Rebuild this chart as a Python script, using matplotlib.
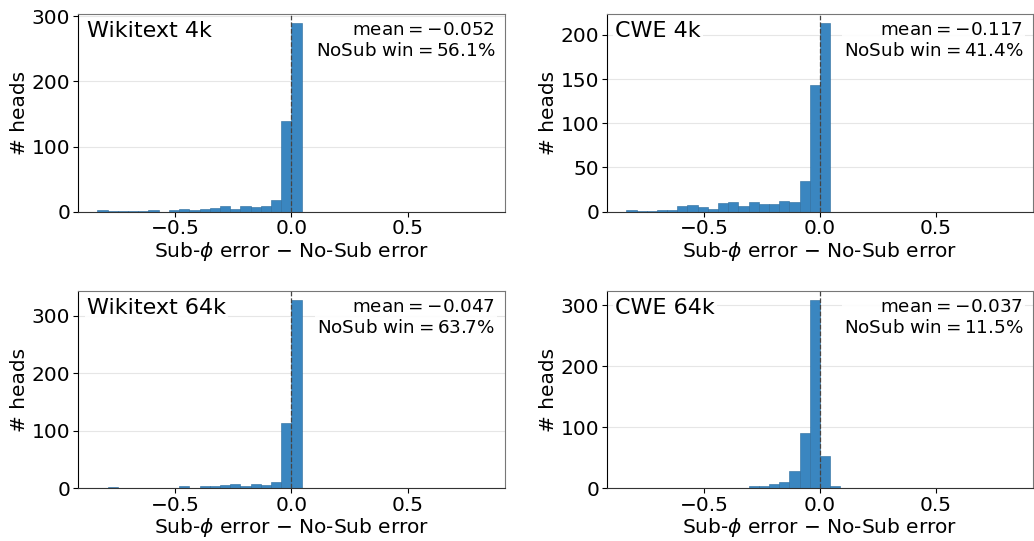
import numpy as np
import matplotlib
matplotlib.use("Agg")
import matplotlib.pyplot as plt
from matplotlib.ticker import MultipleLocator

# -----------------------------
# Data: histogram counts per bin (38 bins, symmetric around 0)
# -----------------------------
edge_max = 0.835
n_bins = 38

wiki4k_counts = [2, 1, 1, 1, 1, 3, 0, 3, 4, 3, 4, 6, 9, 4, 9, 7, 9, 18, 139,
                 289, 0, 0, 0, 0, 0, 0, 0, 0, 0, 0, 0, 0, 0, 0, 0, 0, 0, 0]
cwe4k_counts = [2, 1, 1, 2, 2, 6, 8, 5, 3, 10, 11, 6, 11, 9, 9, 12, 11, 35, 143,
                213, 0, 0, 0, 0, 0, 0, 0, 0, 0, 0, 0, 0, 0, 0, 0, 0, 0, 0]
wiki64k_counts = [1, 3, 0, 1, 1, 1, 1, 0, 4, 0, 4, 4, 6, 7, 4, 7, 6, 11, 114,
                  327, 0, 1, 0, 0, 0, 0, 0, 0, 0, 0, 0, 0, 0, 0, 0, 0, 0, 0]
cwe64k_counts = [0, 0, 0, 0, 0, 0, 0, 0, 1, 1, 1, 1, 3, 4, 7, 10, 29, 91, 308,
                 53, 3, 0, 1, 0, 1, 0, 0, 0, 0, 0, 0, 0, 0, 0, 0, 0, 0, 0]

titles = ["Wikitext 4k", "CWE 4k", "Wikitext 64k", "CWE 64k"]
means = ["-0.052", "-0.117", "-0.047", "-0.037"]
wins = ["56.1", "41.4", "63.7", "11.5"]
y_steps = [100, 50, 100, 100]
x_ticks = [-0.5, 0.0, 0.5]
all_counts = [wiki4k_counts, cwe4k_counts, wiki64k_counts, cwe64k_counts]

edges = np.linspace(-edge_max, edge_max, n_bins + 1)

# -----------------------------
# Figure
# -----------------------------
fig = plt.figure(figsize=(10.34, 5.41), dpi=100)

positions = [
    [0.0754, 0.6087, 0.413, 0.3655],
    [0.587, 0.6087, 0.412, 0.3655],
    [0.0754, 0.0974, 0.413, 0.3647],
    [0.587, 0.0974, 0.412, 0.3647],
]

for pos, counts, title, mean, win, step in zip(positions, all_counts, titles,
                                               means, wins, y_steps):
    ax = fig.add_axes(pos)
    ax.hist(edges[:-1], bins=edges, weights=counts, color="#3a86c0",
            edgecolor="#2a6a9c", linewidth=0.4, zorder=2)
    ax.axvline(0, color="#444444", linestyle="--", linewidth=0.9, zorder=3)

    ax.grid(True, axis="y", color="#e6e6e6", linewidth=0.8, zorder=0)
    ax.set_axisbelow(True)

    ax.spines["top"].set_color("#777777")
    ax.spines["right"].set_color("#777777")
    ax.spines["bottom"].set_color("#333333")

    ax.set_xticks(x_ticks)
    ax.yaxis.set_major_locator(MultipleLocator(step))
    ax.tick_params(labelsize=14.5, length=3.5, pad=2)
    ax.set_xlabel(r"Sub-$\phi$ error $-$ No-Sub error", fontsize=14.5, labelpad=1)
    ax.set_ylabel("# heads", fontsize=14.5, labelpad=2)

    ax.text(0.02, 0.965, title, transform=ax.transAxes, ha="left", va="top",
            fontsize=16, zorder=4,
            bbox=dict(facecolor="white", edgecolor="none", pad=1.5, alpha=0.9))
    ax.text(0.977, 0.965,
            "mean$=" + mean + "$\nNoSub win$=" + win + r"\%$",
            transform=ax.transAxes, ha="right", va="top", fontsize=13.2,
            linespacing=1.2, zorder=4,
            bbox=dict(facecolor="white", edgecolor="none", pad=1.5, alpha=0.9))

plt.savefig("out.png", dpi=100)
plt.close()
